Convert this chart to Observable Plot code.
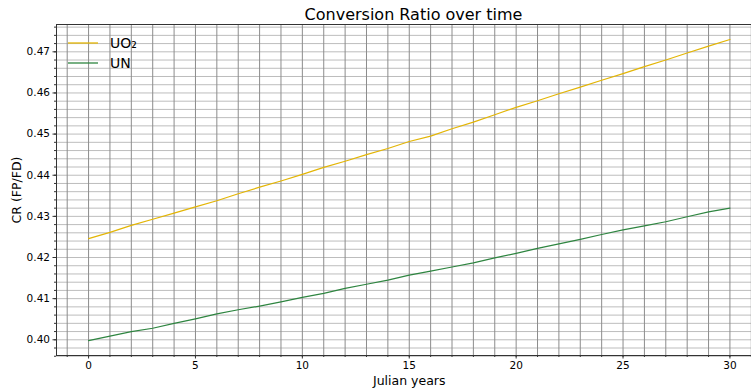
<!DOCTYPE html>
<html>
<head>
<meta charset="utf-8">
<script src="https://cdn.jsdelivr.net/npm/d3@7"></script>
<script src="https://cdn.jsdelivr.net/npm/@observablehq/plot@0.6"></script>
<style>
  html, body { margin: 0; padding: 0; background: white; overflow: hidden; }
  #wrap { position: relative; width: 751px; height: 391px; font-family: "DejaVu Sans", sans-serif; }
  #title { position: absolute; left: 0; width: 827px; top: 5px; text-align: center; font-size: 16px; color: #000; }
  #legend { position: absolute; left: 62px; top: 33px; font-size: 14px; color: #000; }
  .lg { display: flex; align-items: center; height: 20px; }
  .sw { width: 30px; height: 0; border-top: 2px solid; margin-right: 12px; margin-left: 6px; }
</style>
</head>
<body>
<div id="wrap">
  <div id="chart"></div>
  <div id="title">Conversion Ratio over time</div>
  <div id="legend"></div>
</div>
<script>
const years = d3.range(0, 31);
const uo2 = [0.4246, 0.4261, 0.4278, 0.4293, 0.4308, 0.4323, 0.4338, 0.4355, 0.4371, 0.4386,
             0.4402, 0.4419, 0.4434, 0.4450, 0.4465, 0.4482, 0.4495, 0.4513, 0.4529, 0.4547,
             0.4565, 0.4581, 0.4598, 0.4614, 0.4631, 0.4647, 0.4664, 0.4680, 0.4697, 0.4714, 0.4730];
const un  = [0.3998, 0.4009, 0.4020, 0.4028, 0.4040, 0.4051, 0.4063, 0.4073, 0.4082, 0.4092,
             0.4103, 0.4113, 0.4125, 0.4135, 0.4145, 0.4157, 0.4167, 0.4177, 0.4187, 0.4199,
             0.4210, 0.4222, 0.4233, 0.4244, 0.4256, 0.4267, 0.4277, 0.4287, 0.4299, 0.4311, 0.4320];
const seriesNames = ["UO₂", "UN"];
const seriesColors = ["#e3b505", "#2e8540"];
const xMajorTicks = [0, 5, 10, 15, 20, 25, 30];
const xMinorTicks = d3.range(-1, 32);
const yMajorTicks = [0.40, 0.41, 0.42, 0.43, 0.44, 0.45, 0.46, 0.47];
const yMinorTicks = d3.range(198, 239).map(v => v / 500);

const data = [
  ...years.map((t, i) => ({t, v: uo2[i], s: seriesNames[0]})),
  ...years.map((t, i) => ({t, v: un[i], s: seriesNames[1]}))
];

const font = "DejaVu Sans, sans-serif";
const noLabel = () => "";
const chart = Plot.plot({
  width: 751,
  height: 391,
  marginLeft: 56,
  marginTop: 24,
  marginBottom: 36,
  marginRight: -10.5,
  style: {fontFamily: font, fontSize: "10px", color: "black", background: "white", overflow: "hidden"},
  x: {domain: [-1.5, 31.5]},
  y: {domain: [0.39618, 0.47664]},
  color: {domain: seriesNames, range: seriesColors},
  marks: [
    Plot.ruleY(yMinorTicks, {stroke: "#bdbdbd", strokeWidth: 1}),
    Plot.ruleX(xMinorTicks, {stroke: "#8c8c8c", strokeWidth: 1}),
    Plot.line(data, {x: "t", y: "v", z: "s", stroke: "s", strokeWidth: 1.2}),
    Plot.frame({stroke: "#333", strokeWidth: 1}),
    Plot.axisX({ticks: xMinorTicks, tickSize: 2, tickFormat: noLabel, label: null, stroke: "#333"}),
    Plot.axisX({ticks: xMajorTicks, tickSize: 3.5, tickPadding: 3, tickFormat: "d", fontSize: 10.5,
                label: "Julian years", labelAnchor: "center", labelArrow: "none", labelOffset: 29, stroke: "#333"}),
    Plot.axisY({ticks: yMinorTicks, tickSize: 2, tickFormat: noLabel, label: null, stroke: "#333"}),
    Plot.axisY({ticks: yMajorTicks, tickSize: 3.5, tickPadding: 3, tickFormat: ".2f", fontSize: 10.5,
                label: "CR (FP/FD)", labelAnchor: "center", labelArrow: "none", labelOffset: 44, stroke: "#333"})
  ]
});
chart.querySelectorAll("g[aria-label='x-axis label'], g[aria-label='y-axis label']").forEach(el => el.setAttribute("font-size", "12.5"));
document.getElementById("chart").appendChild(chart);

const legend = document.getElementById("legend");
seriesNames.forEach((n, i) => {
  const row = document.createElement("div");
  row.className = "lg";
  const sw = document.createElement("span");
  sw.className = "sw";
  sw.style.borderColor = seriesColors[i];
  sw.style.opacity = "0.65";
  const tx = document.createElement("span");
  tx.textContent = n;
  row.appendChild(sw); row.appendChild(tx);
  legend.appendChild(row);
});
</script>
</body>
</html>
